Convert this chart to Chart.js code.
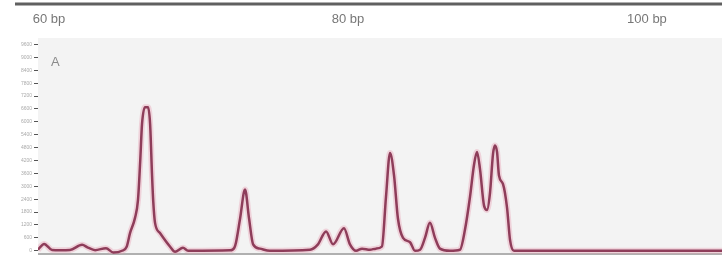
<!DOCTYPE html>
<html>
<head>
<meta charset="utf-8">
<script src="https://cdn.jsdelivr.net/npm/chart.js@4/dist/chart.umd.min.js"></script>
<style>
  body { margin: 0; background: #fff; }
  #wrap { width: 722px; height: 266px; position: relative; }
</style>
</head>
<body>
<div id="wrap"><canvas id="trace"></canvas></div>
<script>
// --- data ---
const sizesBp = [59.26, 59.67, 60.2, 60.74, 61.4, 62.21, 62.6, 63.08, 63.81, 64.3, 64.88, 65.2, 65.42, 65.75, 65.95,
  66.1, 66.22, 66.42, 66.62, 66.76, 66.89, 66.97, 67.09, 67.42, 68.1, 68.43, 68.96, 69.3, 69.43, 72.11, 72.4,
  72.51, 72.78, 73.11, 73.38, 73.65, 74.11, 74.78, 77.46, 77.99, 78.53, 79.0, 79.73, 80.13, 80.54, 80.94, 81.47,
  81.87, 82.27, 82.54, 82.81, 83.08, 83.34, 83.68, 84.15, 84.48, 84.82, 85.15, 85.48, 85.82, 86.15, 86.82, 87.49,
  87.83, 88.16, 88.43, 88.63, 88.83, 89.1, 89.3, 89.5, 89.7, 89.83, 89.97, 90.1, 90.37, 90.64, 90.84, 91.1,
  92.17, 105.02];
const signalA = [50, 320, 40, 30, 40, 280, 150, 30, 120, -80, 0, 200, 830, 1530, 2370,
  4200, 5900, 6680, 6680, 5900, 3500, 2300, 1300, 830, 190, -50, 140, 0, 0, 20, 150,
  400, 1500, 2850, 1500, 300, 100, 0, 50, 300, 900, 300, 1050, 300, 0, 100, 50,
  100, 200, 2500, 4550, 3500, 1500, 600, 400, 0, 50, 600, 1300, 600, 100, 0, 50,
  1000, 2500, 4000, 4600, 3800, 2100, 1900, 2700, 4500, 4900, 4600, 3500, 3100, 2000, 500, 0,
  0, 0];
const xTicks = [60, 80, 100];
const yTicks = [0, 600, 1200, 1800, 2400, 3000, 3600, 4200, 4800, 5400, 6000, 6600, 7200, 7800, 8400, 9000, 9600];
const dyeLabel = 'A';

const points = sizesBp.map((bp, i) => ({ x: bp, y: signalA[i] }));

// plot background, top ruler line, baseline and lane letter
const decor = {
  id: 'decor',
  beforeDatasetsDraw(chart) {
    const { ctx, chartArea: a } = chart;
    ctx.save();
    ctx.fillStyle = '#f3f3f3';
    ctx.fillRect(a.left, a.top, a.right - a.left, a.bottom - a.top);
    ctx.strokeStyle = '#b0b0b0';
    ctx.lineWidth = 2;
    ctx.beginPath();
    ctx.moveTo(a.left, a.bottom);
    ctx.lineTo(a.right, a.bottom);
    ctx.stroke();
    ctx.fillStyle = '#8a8a8a';
    ctx.font = '13px "Liberation Sans", Arial, sans-serif';
    ctx.textBaseline = 'middle';
    ctx.fillText(dyeLabel, a.left + 13, 62);
    ctx.restore();
  },
  afterDraw(chart) {
    const { ctx } = chart;
    ctx.save();
    ctx.strokeStyle = '#606060';
    ctx.lineWidth = 3;
    ctx.beginPath();
    ctx.moveTo(15, 4);
    ctx.lineTo(chart.width, 4);
    ctx.stroke();
    ctx.restore();
  }
};

new Chart(document.getElementById('trace'), {
  type: 'line',
  data: {
    datasets: [{
      data: points,
      borderColor: '#8e3d5a',
      borderWidth: 2.5,
      pointRadius: 0,
      cubicInterpolationMode: 'monotone',
      fill: false
    }, {
      data: points,
      borderColor: 'rgba(232, 160, 180, 0.4)',
      borderWidth: 6,
      pointRadius: 0,
      cubicInterpolationMode: 'monotone',
      fill: false
    }]
  },
  options: {
    responsive: true,
    maintainAspectRatio: false,
    animation: false,
    layout: { padding: { left: 0, right: 0, top: 0, bottom: 12 } },
    plugins: { legend: { display: false }, tooltip: { enabled: false } },
    scales: {
      x: {
        type: 'linear',
        position: 'top',
        min: 59.26,
        max: 105.02,
        afterBuildTicks: (s) => { s.ticks = xTicks.map(v => ({ value: v })); },
        afterFit: (s) => { s.height = 38; },
        grid: { display: false, drawTicks: false },
        border: { display: false },
        ticks: {
          padding: 11,
          color: '#777',
          font: { size: 13, family: '"Liberation Sans", Arial, sans-serif' },
          callback: (v) => v + ' bp'
        }
      },
      y: {
        min: -150,
        max: 9900,
        afterBuildTicks: (s) => { s.ticks = yTicks.map(v => ({ value: v })); },
        afterFit: (s) => { s.width = 38; },
        grid: { drawOnChartArea: false, drawTicks: true, tickLength: 4, color: '#555' },
        border: { display: true, color: '#555', width: 1 },
        ticks: {
          padding: 2,
          color: '#aaa',
          font: { size: 5, family: '"Liberation Sans", Arial, sans-serif' },
          callback: (v) => String(v)
        }
      }
    }
  },
  plugins: [decor]
});
</script>
</body>
</html>
